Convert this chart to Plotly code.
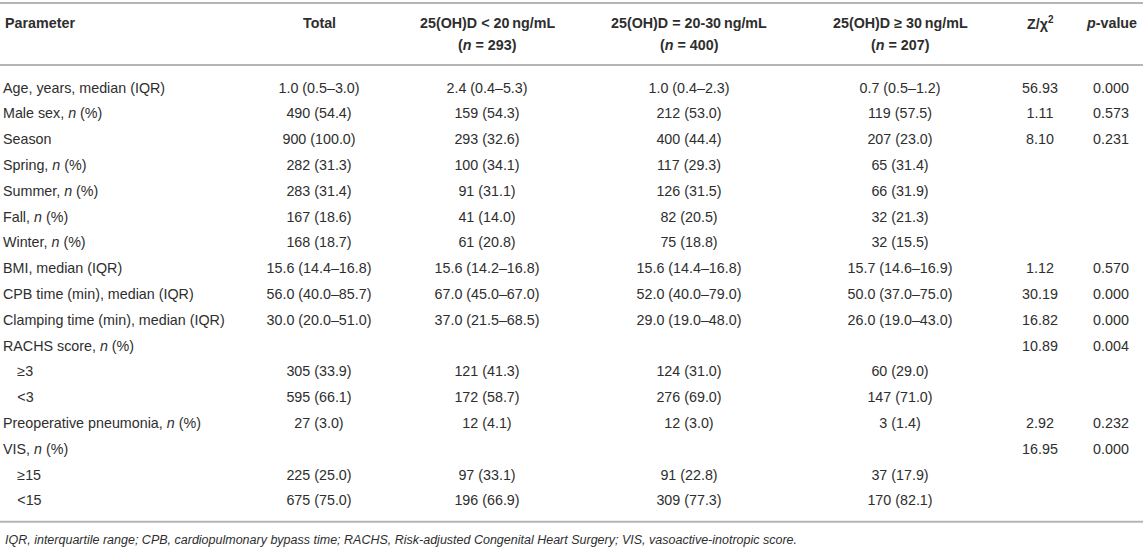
import plotly.graph_objects as go

# table contents, one list per column
parameters = [
    "Age, years, median (IQR)", "Male sex, <i>n</i> (%)", "Season",
    "Spring, <i>n</i> (%)", "Summer, <i>n</i> (%)", "Fall, <i>n</i> (%)",
    "Winter, <i>n</i> (%)", "BMI, median (IQR)", "CPB time (min), median (IQR)",
    "Clamping time (min), median (IQR)", "RACHS score, <i>n</i> (%)",
    "\u2003\u22653", "\u2003&lt;3", "Preoperative pneumonia, <i>n</i> (%)",
    "VIS, <i>n</i> (%)", "\u2003\u226515", "\u2003&lt;15",
]
total = [
    "1.0 (0.5\u20133.0)", "490 (54.4)", "900 (100.0)", "282 (31.3)", "283 (31.4)",
    "167 (18.6)", "168 (18.7)", "15.6 (14.4\u201316.8)", "56.0 (40.0\u201385.7)",
    "30.0 (20.0\u201351.0)", "", "305 (33.9)", "595 (66.1)", "27 (3.0)", "",
    "225 (25.0)", "675 (75.0)",
]
below20 = [
    "2.4 (0.4\u20135.3)", "159 (54.3)", "293 (32.6)", "100 (34.1)", "91 (31.1)",
    "41 (14.0)", "61 (20.8)", "15.6 (14.2\u201316.8)", "67.0 (45.0\u201367.0)",
    "37.0 (21.5\u201368.5)", "", "121 (41.3)", "172 (58.7)", "12 (4.1)", "",
    "97 (33.1)", "196 (66.9)",
]
from20to30 = [
    "1.0 (0.4\u20132.3)", "212 (53.0)", "400 (44.4)", "117 (29.3)", "126 (31.5)",
    "82 (20.5)", "75 (18.8)", "15.6 (14.4\u201316.8)", "52.0 (40.0\u201379.0)",
    "29.0 (19.0\u201348.0)", "", "124 (31.0)", "276 (69.0)", "12 (3.0)", "",
    "91 (22.8)", "309 (77.3)",
]
above30 = [
    "0.7 (0.5\u20131.2)", "119 (57.5)", "207 (23.0)", "65 (31.4)", "66 (31.9)",
    "32 (21.3)", "32 (15.5)", "15.7 (14.6\u201316.9)", "50.0 (37.0\u201375.0)",
    "26.0 (19.0\u201343.0)", "", "60 (29.0)", "147 (71.0)", "3 (1.4)", "",
    "37 (17.9)", "170 (82.1)",
]
z_chi2 = ["56.93", "1.11", "8.10", "", "", "", "", "1.12", "30.19", "16.82",
          "10.89", "", "", "2.92", "16.95", "", ""]
p_value = ["0.000", "0.573", "0.231", "", "", "", "", "0.570", "0.000", "0.000",
           "0.004", "", "", "0.232", "0.000", "", ""]

headers = [
    "Parameter", "Total", "25(OH)D &lt; 20\u2009ng/mL", "25(OH)D = 20-30\u2009ng/mL",
    "25(OH)D \u2265 30\u2009ng/mL", "Z/\u03c7<sup>2</sup>", "<i>p</i>-value",
]
group_n = ["", "", "293", "400", "207", "", ""]

footnote = ("IQR, interquartile range; CPB, cardiopulmonary bypass time; RACHS, "
            "Risk-adjusted Congenital Heart Surgery; VIS, vasoactive-inotropic score.")

# layout: column anchors (x in px), row index -> y
col_x = [3, 319, 487, 689, 900, 1040, 1111]
TEXT = "#2e2e2e"
LINE = "#b5b5b5"
FONT = "Liberation Sans, Arial, sans-serif"
SIZE = 14.3

columns = [parameters, total, below20, from20to30, above30, z_chi2, p_value]
n_rows = len(parameters)

fig = go.Figure()
for i, col in enumerate(columns):
    rows = [r for r in range(n_rows) if col[r]]
    fig.add_trace(go.Scatter(
        x=[col_x[i]] * len(rows), y=rows, text=[col[r] for r in rows], mode="text",
        textposition="middle right" if i == 0 else "middle center",
        textfont=dict(family=FONT, size=SIZE, color=TEXT),
        hoverinfo="skip", showlegend=False,
    ))

# header cells
for i, h in enumerate(headers):
    fig.add_annotation(x=col_x[i], y=-2.57, text="<b>%s</b>" % h, showarrow=False,
                       xanchor="left" if i == 0 else "center", yanchor="middle",
                       font=dict(family=FONT, size=SIZE, color=TEXT))
    if group_n[i]:
        fig.add_annotation(x=col_x[i], y=-1.72, text="<b>(<i>n</i> = %s)</b>" % group_n[i],
                           showarrow=False, xanchor="center", yanchor="middle",
                           font=dict(family=FONT, size=SIZE, color=TEXT))

fig.add_annotation(x=3, y=n_rows + 0.47, text="<i>%s</i>" % footnote, showarrow=False,
                   xanchor="left", yanchor="middle",
                   font=dict(family=FONT, size=12.5, color=TEXT))

# rules: top, under header, bottom
for yy in [-3.33, -0.93, n_rows - 0.22]:
    fig.add_shape(type="line", x0=0, x1=1143, y0=yy, y1=yy, xref="x", yref="y",
                  line=dict(color=LINE, width=2))

fig.update_xaxes(range=[0, 1143], visible=False, fixedrange=True)
fig.update_yaxes(range=[18.22, -3.45], visible=False, fixedrange=True)
fig.update_layout(width=1143, height=559, margin=dict(l=0, r=0, t=0, b=0),
                  paper_bgcolor="white", plot_bgcolor="white")

fig.write_html("out.html", config={"displayModeBar": False},
               post_script="document.body.style.margin='0';")
